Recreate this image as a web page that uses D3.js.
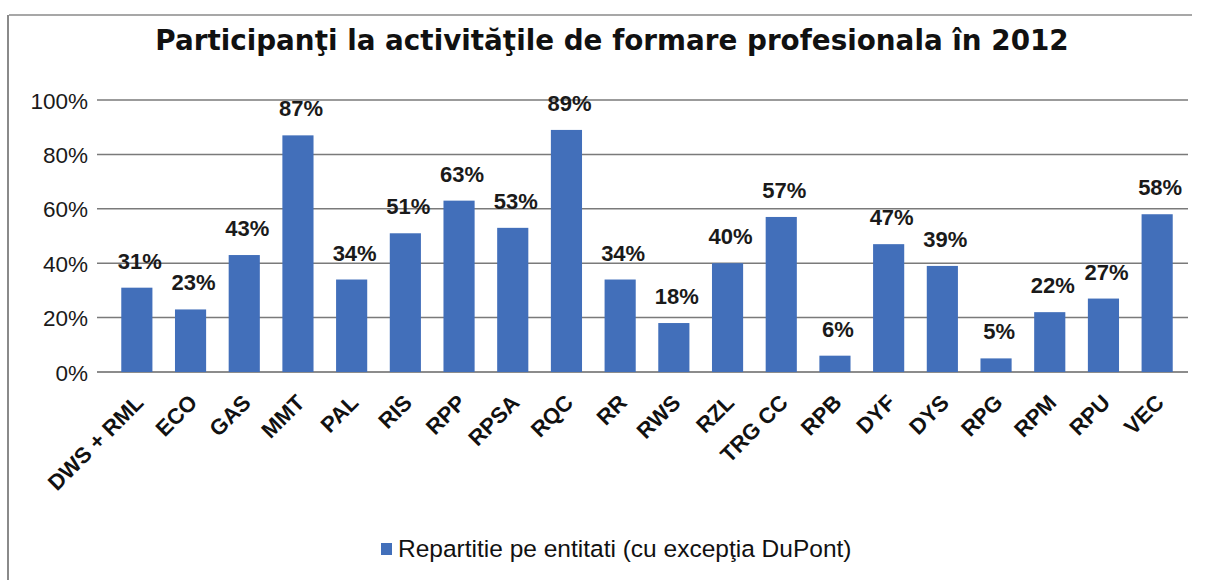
<!DOCTYPE html>
<html>
<head>
<meta charset="utf-8">
<script src="https://cdn.jsdelivr.net/npm/d3@7"></script>
<style>
  html, body { margin: 0; padding: 0; background: #fff; }
  svg { display: block; }
</style>
</head>
<body>
<svg id="chart" width="1205" height="580"></svg>
<script>
const titleText = "Participanţi la activităţile de formare profesionala în 2012";
const legendLabel = "Repartitie pe entitati (cu excepţia DuPont)";
const categories = ["DWS + RML","ECO","GAS","MMT","PAL","RIS","RPP","RPSA","RQC","RR","RWS","RZL","TRG CC","RPB","DYF","DYS","RPG","RPM","RPU","VEC"];
const values = [31,23,43,87,34,51,63,53,89,34,18,40,57,6,47,39,5,22,27,58];
const yTicks = [0,20,40,60,80,100];

const W = 1205, H = 580;
const svg = d3.select("#chart");
const barColor = "#426fba";

// outer frame
svg.append("line").attr("x1",9).attr("x2",1192).attr("y1",15).attr("y2",15)
  .attr("stroke","#8a8a8a").attr("stroke-width",1.5);
svg.append("line").attr("x1",8).attr("x2",8).attr("y1",15).attr("y2",H)
  .attr("stroke","#8a8a8a").attr("stroke-width",2);

const plotL = 97, plotR = 1188;
const x = d3.scaleBand().domain(categories).range([110, 1184]).paddingInner(0.42).paddingOuter(0.21);
const y = d3.scaleLinear().domain([0,100]).range([372,100]);

// title
svg.append("text").attr("x", 612).attr("y", 50).attr("text-anchor","middle")
  .attr("font-family","DejaVu Sans, Verdana, sans-serif").attr("font-weight","bold")
  .attr("font-size",27.8).attr("fill","#111").text(titleText);

// gridlines
svg.append("g").selectAll("line").data(yTicks).join("line")
  .attr("x1", plotL).attr("x2", plotR)
  .attr("y1", d => y(d)).attr("y2", d => y(d))
  .attr("stroke", d => d === 0 ? "#666" : "#7a7a7a").attr("stroke-width", 1.5);

// y axis labels
const yAxis = d3.axisLeft(y).tickValues(yTicks).tickFormat(d => d + "%").tickSize(0).tickPadding(0);
const yg = svg.append("g").attr("transform", `translate(88,0)`).call(yAxis);
yg.select(".domain").remove();
yg.selectAll("text").attr("font-family","Liberation Sans, Arial, sans-serif")
  .attr("font-size",22.5).attr("fill","#1a1a1a").attr("dy","0.36em");

// bars
svg.append("g").selectAll("rect").data(categories).join("rect")
  .attr("x", d => x(d)).attr("width", x.bandwidth())
  .attr("y", (d,i) => y(values[i])).attr("height", (d,i) => y(0) - y(values[i]))
  .attr("fill", barColor);

// value labels
svg.append("g").selectAll("text").data(categories).join("text")
  .attr("x", d => x(d) + x.bandwidth()/2 + 3)
  .attr("y", (d,i) => y(values[i]) - 19)
  .attr("text-anchor","middle")
  .attr("font-family","Liberation Sans, Arial, sans-serif").attr("font-weight","bold")
  .attr("font-size",22).attr("fill","#1a1a1a")
  .text((d,i) => values[i] + "%");

// x labels
svg.append("g").selectAll("text").data(categories).join("text")
  .attr("transform", d => `translate(${x(d) + x.bandwidth()/2 + 8},${404}) rotate(-45)`)
  .attr("text-anchor","end")
  .attr("font-family","Liberation Sans, Arial, sans-serif").attr("font-weight","bold")
  .attr("font-size",22).attr("fill","#111")
  .text(d => d);

// legend
const lg = svg.append("g").attr("transform","translate(381,543)");
lg.append("rect").attr("width",11).attr("height",12).attr("fill", barColor);
lg.append("text").attr("x",17).attr("y",14)
  .attr("font-family","Liberation Sans, Arial, sans-serif")
  .attr("font-size",24.5).attr("fill","#111").text(legendLabel);
</script>
</body>
</html>
